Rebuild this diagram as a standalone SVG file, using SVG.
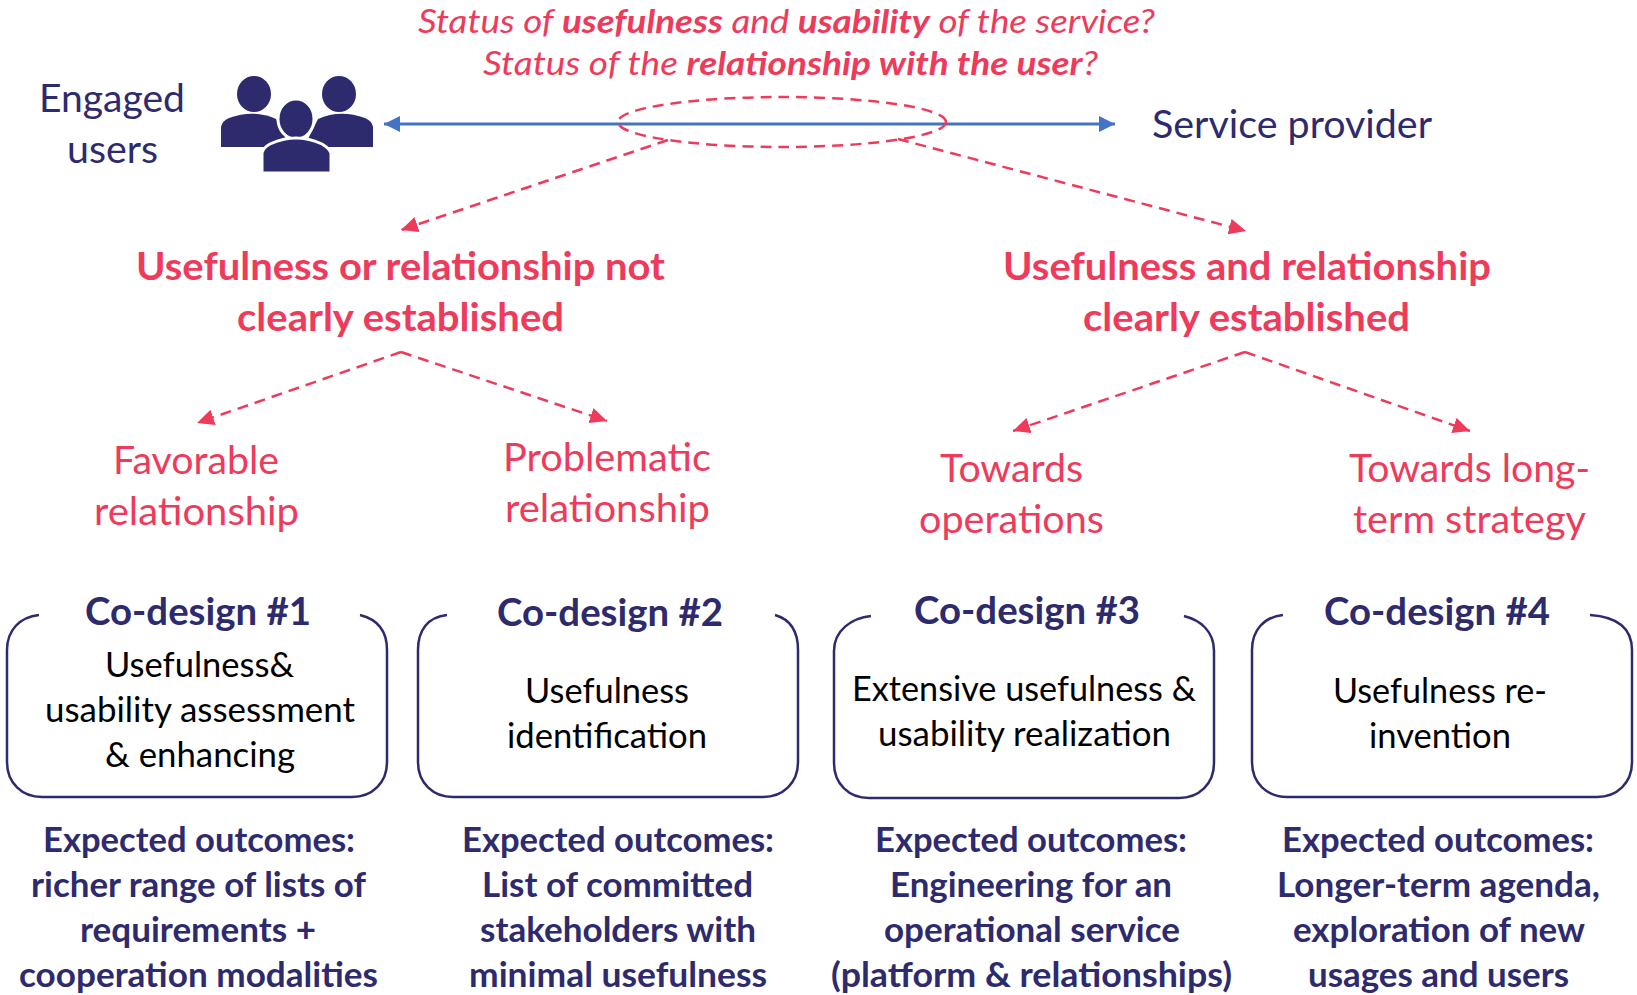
<svg xmlns="http://www.w3.org/2000/svg" width="1637" height="995" viewBox="0 0 1637 995">
<style>
text{font-family:Lato,"Liberation Sans",sans-serif;text-anchor:start}
.q{font-size:33px;fill:#ee3b5b;font-style:italic}
.q tspan{font-weight:700}
.h{font-size:39px;fill:#ee3b5b;font-weight:700}
.l{font-size:39px;fill:#ee3b5b}
.n{font-size:39px;fill:#2e2a6e}
.t{font-size:38px;fill:#2e2a6e;font-weight:700}
.b{font-size:35px;fill:#000}
.o{font-size:35px;fill:#2e2a6e;font-weight:700}
.box{fill:none;stroke:#2e2a6e;stroke-width:2.5}
.dash{fill:none;stroke:#ee3b5b;stroke-width:2.5;stroke-dasharray:11 7}
.red{marker-end:url(#mr)}
.blue{fill:none;stroke:#4472c4;stroke-width:3;marker-end:url(#mb);marker-start:url(#mbs)}
</style>
<defs>
<marker id="mr" markerUnits="userSpaceOnUse" markerWidth="18" markerHeight="16" refX="17" refY="8" orient="auto"><path d="M0 0L17 8L0 16Z" fill="#ee3b5b"/></marker>
<marker id="mb" markerUnits="userSpaceOnUse" markerWidth="17" markerHeight="16" refX="16" refY="8" orient="auto"><path d="M0 0L16 8L0 16Z" fill="#4472c4"/></marker>
<marker id="mbs" markerUnits="userSpaceOnUse" markerWidth="17" markerHeight="16" refX="0" refY="8" orient="auto"><path d="M16 0L0 8L16 16Z" fill="#4472c4"/></marker>
</defs>
<g id="question">
<text class="q" x="418" y="33" textLength="737" lengthAdjust="spacingAndGlyphs">Status of <tspan>usefulness</tspan> and <tspan>usability</tspan> of the service?</text>
<text class="q" x="483" y="75" textLength="615" lengthAdjust="spacingAndGlyphs">Status of the <tspan>relationship with the user</tspan>?</text>
</g>
<g id="engaged-users">
<text class="n" x="39" y="112" textLength="146" lengthAdjust="spacingAndGlyphs">Engaged</text>
<text class="n" x="67" y="163" textLength="91" lengthAdjust="spacingAndGlyphs">users</text>
</g>
<g id="users-icon" fill="#2e2a6e">
<ellipse cx="254" cy="94" rx="17" ry="18"/>
<ellipse cx="339" cy="94" rx="17" ry="18"/>
<path d="M221 147V127Q222 121 229 118Q254 109 276 119L290 147Z"/>
<path d="M373 147V127Q372 121 365 118Q340 109 318 119L304 147Z"/>
<ellipse cx="296" cy="119" rx="18" ry="20" stroke="#fff" stroke-width="3"/>
<path d="M262 173V153Q263 148 270 144Q296 132 322 144Q329 148 331 153V173Z" stroke="#fff" stroke-width="3"/>
</g>
<g id="service-provider">
<text class="n" x="1152" y="138" textLength="280" lengthAdjust="spacingAndGlyphs">Service provider</text>
</g>
<g id="connectors">
<line class="blue" x1="384" y1="124" x2="1115" y2="124"/>
<ellipse class="dash" cx="782" cy="122" rx="164" ry="25"/>
<path class="dash red" d="M668 140L401 230"/>
<path class="dash red" d="M898 139L1246 231"/>
<path class="dash red" d="M401 352L197 423"/>
<path class="dash red" d="M401 352L607 421"/>
<path class="dash red" d="M1245 352L1013 431"/>
<path class="dash red" d="M1245 352L1470 431"/>
</g>
<g id="branch-left">
<text class="h" x="136" y="280" textLength="529" lengthAdjust="spacingAndGlyphs">Usefulness or relationship not</text>
<text class="h" x="237" y="331" textLength="327" lengthAdjust="spacingAndGlyphs">clearly established</text>
</g>
<g id="branch-right">
<text class="h" x="1003" y="280" textLength="488" lengthAdjust="spacingAndGlyphs">Usefulness and relationship</text>
<text class="h" x="1083" y="331" textLength="327" lengthAdjust="spacingAndGlyphs">clearly established</text>
</g>
<g id="favorable">
<text class="l" x="113" y="474" textLength="166" lengthAdjust="spacingAndGlyphs">Favorable</text>
<text class="l" x="94" y="525" textLength="205" lengthAdjust="spacingAndGlyphs">relationship</text>
</g>
<g id="problematic">
<text class="l" x="503" y="471" textLength="208" lengthAdjust="spacingAndGlyphs">Problematic</text>
<text class="l" x="505" y="522" textLength="205" lengthAdjust="spacingAndGlyphs">relationship</text>
</g>
<g id="operations">
<text class="l" x="940" y="482" textLength="143" lengthAdjust="spacingAndGlyphs">Towards</text>
<text class="l" x="919" y="533" textLength="185" lengthAdjust="spacingAndGlyphs">operations</text>
</g>
<g id="strategy">
<text class="l" x="1349" y="482" textLength="241" lengthAdjust="spacingAndGlyphs">Towards long-</text>
<text class="l" x="1353" y="533" textLength="233" lengthAdjust="spacingAndGlyphs">term strategy</text>
</g>
<g id="codesign-1">
<path class="box" d="M39 615C20 617 7 630 7 650V762C7 783 22 797 42 797H352C372 797 387 783 387 762V650C387 630 376 619 360 615"/>
<text class="t" x="85" y="625" textLength="226" lengthAdjust="spacingAndGlyphs">Co-design #1</text>
<text class="b" x="105" y="677" textLength="189" lengthAdjust="spacingAndGlyphs">Usefulness&amp;</text>
<text class="b" x="45" y="722" textLength="310" lengthAdjust="spacingAndGlyphs">usability assessment</text>
<text class="b" x="105" y="767" textLength="190" lengthAdjust="spacingAndGlyphs">&amp; enhancing</text>
<text class="o" x="43" y="852" textLength="312" lengthAdjust="spacingAndGlyphs">Expected outcomes:</text>
<text class="o" x="31" y="897" textLength="335" lengthAdjust="spacingAndGlyphs">richer range of lists of</text>
<text class="o" x="80" y="942" textLength="236" lengthAdjust="spacingAndGlyphs">requirements +</text>
<text class="o" x="19" y="987" textLength="359" lengthAdjust="spacingAndGlyphs">cooperation modalities</text>
</g>
<g id="codesign-2">
<path class="box" d="M447 615C428 617 418 630 418 650V762C418 783 433 797 453 797H763C783 797 798 783 798 762V650C798 630 789 619 775 615"/>
<text class="t" x="497" y="626" textLength="226" lengthAdjust="spacingAndGlyphs">Co-design #2</text>
<text class="b" x="525" y="703" textLength="164" lengthAdjust="spacingAndGlyphs">Usefulness</text>
<text class="b" x="507" y="748" textLength="200" lengthAdjust="spacingAndGlyphs">identification</text>
<text class="o" x="462" y="852" textLength="312" lengthAdjust="spacingAndGlyphs">Expected outcomes:</text>
<text class="o" x="482" y="897" textLength="271" lengthAdjust="spacingAndGlyphs">List of committed</text>
<text class="o" x="480" y="942" textLength="276" lengthAdjust="spacingAndGlyphs">stakeholders with</text>
<text class="o" x="469" y="987" textLength="298" lengthAdjust="spacingAndGlyphs">minimal usefulness</text>
</g>
<g id="codesign-3">
<path class="box" d="M871 616C852 618 834 630 834 651V763C834 784 849 798 869 798H1179C1199 798 1214 784 1214 763V651C1214 631 1200 620 1184 616"/>
<text class="t" x="914" y="624" textLength="226" lengthAdjust="spacingAndGlyphs">Co-design #3</text>
<text class="b" x="852" y="701" textLength="344" lengthAdjust="spacingAndGlyphs">Extensive usefulness &amp;</text>
<text class="b" x="878" y="746" textLength="293" lengthAdjust="spacingAndGlyphs">usability realization</text>
<text class="o" x="875" y="852" textLength="312" lengthAdjust="spacingAndGlyphs">Expected outcomes:</text>
<text class="o" x="890" y="897" textLength="282" lengthAdjust="spacingAndGlyphs">Engineering for an</text>
<text class="o" x="884" y="942" textLength="296" lengthAdjust="spacingAndGlyphs">operational service</text>
<text class="o" x="831" y="987" textLength="401" lengthAdjust="spacingAndGlyphs">(platform &amp; relationships)</text>
</g>
<g id="codesign-4">
<path class="box" d="M1283 615C1264 617 1252 630 1252 650V762C1252 783 1267 797 1287 797H1597C1617 797 1632 783 1632 762V650C1632 630 1620 617 1590 615"/>
<text class="t" x="1324" y="625" textLength="226" lengthAdjust="spacingAndGlyphs">Co-design #4</text>
<text class="b" x="1333" y="703" textLength="214" lengthAdjust="spacingAndGlyphs">Usefulness re-</text>
<text class="b" x="1369" y="748" textLength="142" lengthAdjust="spacingAndGlyphs">invention</text>
<text class="o" x="1282" y="852" textLength="312" lengthAdjust="spacingAndGlyphs">Expected outcomes:</text>
<text class="o" x="1277" y="897" textLength="323" lengthAdjust="spacingAndGlyphs">Longer-term agenda,</text>
<text class="o" x="1293" y="942" textLength="292" lengthAdjust="spacingAndGlyphs">exploration of new</text>
<text class="o" x="1308" y="987" textLength="261" lengthAdjust="spacingAndGlyphs">usages and users</text>
</g>
</svg>
